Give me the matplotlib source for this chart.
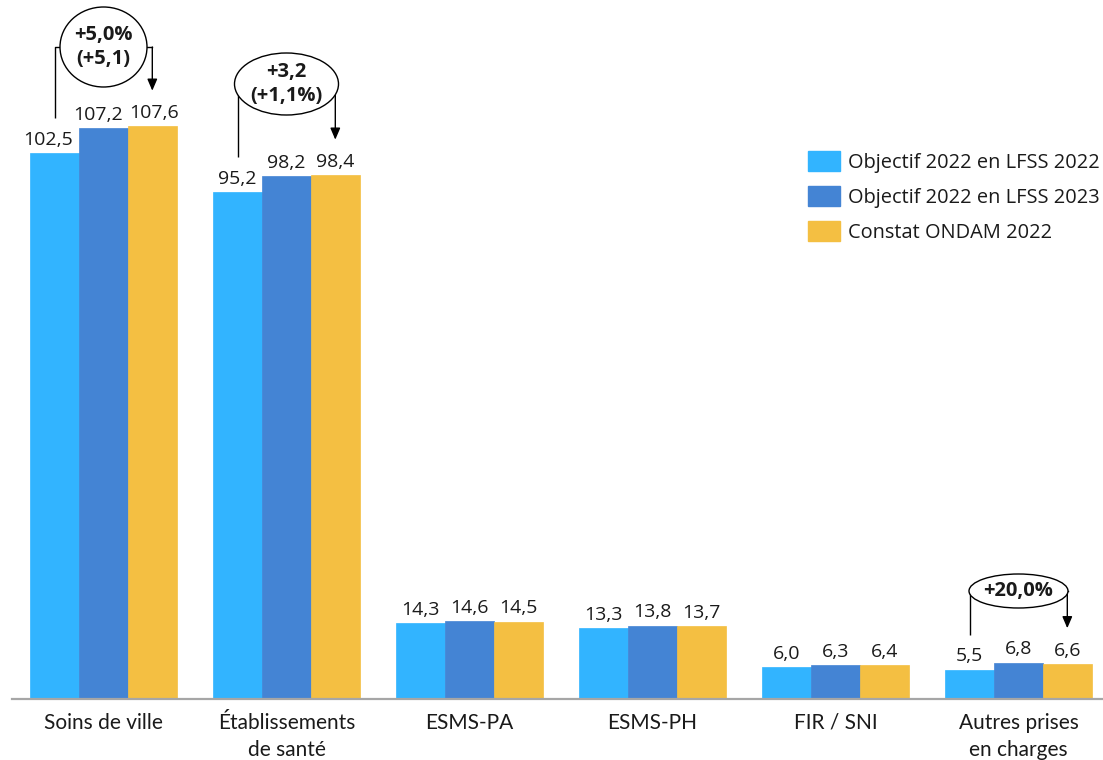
import numpy as np
import matplotlib
matplotlib.use("Agg")
import matplotlib.pyplot as plt
from matplotlib.patches import Ellipse, Patch

# --- data -------------------------------------------------------------
categories = ["Soins de ville", "Établissements\nde santé", "ESMS-PA",
              "ESMS-PH", "FIR / SNI", "Autres prises\nen charges"]
series_names = ["Objectif 2022 en LFSS 2022",
                "Objectif 2022 en LFSS 2023",
                "Constat ONDAM 2022"]
obj_lfss2022 = [102.5, 95.2, 14.3, 13.3, 6.0, 5.5]
obj_lfss2023 = [107.2, 98.2, 14.6, 13.8, 6.3, 6.8]
constat_2022 = [107.6, 98.4, 14.5, 13.7, 6.4, 6.6]

# bubbles: (category index, text)
bubbles = [(0, "+5,0%\n(+5,1)"), (1, "+3,2\n(+1,1%)"), (5, "+20,0%")]

colors = ["#32B4FF", "#4484D4", "#F4BF42"]

# --- figure -----------------------------------------------------------
W, H, DPI = 1103, 760, 100
PT = 72 / DPI  # points per pixel
fig = plt.figure(figsize=(W / DPI, H / DPI), dpi=DPI)
ax_left, ax_bottom = 12 / W, 61 / H
ax = fig.add_axes([ax_left, ax_bottom, 1 - ax_left, 1 - ax_bottom])

px_per_cat = 183.0
ax.set_xlim(-0.5, -0.5 + (W - 12) / px_per_cat)
ax.set_ylim(0, 699 / 5.322)

x = np.arange(len(categories))
bw = 0.8 / 3
series = [obj_lfss2022, obj_lfss2023, constat_2022]
val_font = dict(family="Open Sans", size=14, color="#1a1a1a")

# horizontal nudges (pixels) to keep crowded labels apart
label_nudge = {(0, 0): -7, (0, 1): -5, (0, 2): 2}

for k, (vals, col, name) in enumerate(zip(series, colors, series_names)):
    xs = x + (k - 1) * bw
    ax.bar(xs, vals, width=bw, color=col, label=name, zorder=2,
           edgecolor=col, linewidth=0.5)
    for i, (xi, v) in enumerate(zip(xs, vals)):
        dx = label_nudge.get((i, k), 0) * PT
        ax.annotate(f"{v:.1f}".replace(".", ","), (xi, v),
                    xytext=(dx, 6), textcoords="offset points",
                    ha="center", va="baseline", **val_font)

# --- variation bubbles ------------------------------------------------
ppy = 5.322  # pixels per data unit (vertical)
bubble_geom = {0: (47, 87, 80), 1: (84, 104, 62), 5: (591, 99, 34)}
for idx, txt in bubbles:
    cy_px, w_px, h_px = bubble_geom[idx]
    cx = x[idx]
    cy = (699 - cy_px) / ppy
    a = w_px / px_per_cat / 2
    b = h_px / ppy / 2
    ax.add_patch(Ellipse((cx, cy), 2 * a, 2 * b, facecolor="white",
                         edgecolor="black", linewidth=1.0, zorder=4))
    ax.text(cx, cy, txt, ha="center", va="center", fontsize=14.5,
            fontweight="bold", family="Open Sans", linespacing=1.3,
            zorder=5, color="#1a1a1a")
    x_start = cx - bw
    x_end = cx + bw
    y_start = obj_lfss2022[idx] + 6.6
    y_end = constat_2022[idx] + 6.7

    def join_y(xx):
        d = abs(xx - cx)
        if d < a * 0.97:
            return cy - b * np.sqrt(1 - (d / a) ** 2)
        return cy

    # left leg
    yl = join_y(x_start)
    pts_x = [x_start, x_start]
    pts_y = [y_start, yl]
    if yl == cy:
        pts_x.append(cx - a)
        pts_y.append(cy)
    ax.plot(pts_x, pts_y, color="black", lw=1.0, zorder=3,
            solid_capstyle="butt")
    # right leg with arrow
    yr = join_y(x_end)
    if yr == cy:
        ax.plot([cx + a, x_end], [cy, cy], color="black", lw=1.0, zorder=3)
    ax.annotate("", xy=(x_end, y_end), xytext=(x_end, yr),
                arrowprops=dict(arrowstyle="-|>,head_length=0.7,head_width=0.3",
                                color="black", lw=1.0,
                                shrinkA=0, shrinkB=0), zorder=3)

# --- axes styling -----------------------------------------------------
for s in ["top", "right", "left"]:
    ax.spines[s].set_visible(False)
ax.spines["bottom"].set_color("#A6A6A6")
ax.spines["bottom"].set_linewidth(1.6)
ax.set_yticks([])
ax.set_xticks(x)
ax.set_xticklabels(categories, family="Lato", fontsize=15,
                   linespacing=1.42, color="#1a1a1a")
ax.tick_params(axis="x", length=0, pad=10)

handles = [Patch(facecolor=c, edgecolor=c) for c in colors]
fig.legend(handles, series_names, loc="upper left",
           bbox_to_anchor=(808 / W, 1 - 151 / H),
           frameon=False, prop=dict(family="Open Sans", size=14.4),
           handlelength=1.6, handleheight=1.15, handletextpad=0.4,
           labelspacing=0.66, borderpad=0, borderaxespad=0,
           labelcolor="#1a1a1a")

fig.savefig("out.png", dpi=DPI)
